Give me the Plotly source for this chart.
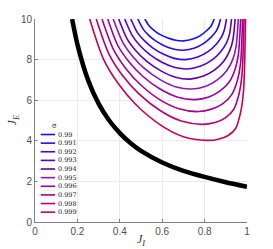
import plotly.graph_objects as go

# ---- data ----
alphas = ["0.99", "0.991", "0.992", "0.993", "0.994", "0.995", "0.996", "0.997", "0.998", "0.999"]
colors = ["#1010ff", "#2a08f0", "#3f05e0", "#5500d0", "#5c00b0",
          "#8a18b8", "#9a00a8", "#a8008a", "#b80070", "#c8005a"]

x_099 = [0.518, 0.540, 0.564, 0.591, 0.627, 0.664, 0.700, 0.744, 0.780, 0.809, 0.828, 0.838, 0.845]
y_099 = [10.0, 9.64, 9.42, 9.23, 9.06, 8.95, 8.92, 9.01, 9.18, 9.42, 9.62, 9.81, 10.0]
x_0991 = [0.485, 0.511, 0.539, 0.571, 0.614, 0.657, 0.700, 0.753, 0.796, 0.831, 0.854, 0.866, 0.875]
y_0991 = [10.0, 9.49, 9.17, 8.91, 8.66, 8.51, 8.46, 8.57, 8.80, 9.11, 9.39, 9.66, 10.0]
x_0992 = [0.452, 0.483, 0.517, 0.555, 0.607, 0.658, 0.710, 0.768, 0.816, 0.855, 0.880, 0.893, 0.903]
y_0992 = [10.0, 9.33, 8.92, 8.58, 8.26, 8.06, 8.00, 8.13, 8.39, 8.76, 9.12, 9.46, 10.0]
x_0993 = [0.423, 0.459, 0.497, 0.542, 0.601, 0.661, 0.720, 0.782, 0.834, 0.875, 0.902, 0.917, 0.927]
y_0993 = [10.0, 9.18, 8.67, 8.25, 7.86, 7.61, 7.54, 7.68, 7.97, 8.38, 8.80, 9.23, 10.0]
x_0994 = [0.395, 0.435, 0.479, 0.529, 0.596, 0.663, 0.730, 0.794, 0.848, 0.891, 0.918, 0.933, 0.944]
y_0994 = [10.0, 9.01, 8.40, 7.90, 7.43, 7.13, 7.04, 7.19, 7.49, 7.93, 8.43, 8.94, 10.0]
x_0995 = [0.369, 0.414, 0.462, 0.517, 0.592, 0.666, 0.740, 0.806, 0.860, 0.904, 0.933, 0.948, 0.959]
y_0995 = [10.0, 8.85, 8.14, 7.55, 7.00, 6.65, 6.55, 6.69, 7.00, 7.45, 8.01, 8.61, 10.0]
x_0996 = [0.343, 0.392, 0.446, 0.508, 0.590, 0.673, 0.755, 0.820, 0.873, 0.916, 0.944, 0.959, 0.970]
y_0996 = [10.0, 8.67, 7.86, 7.18, 6.55, 6.15, 6.03, 6.16, 6.46, 6.90, 7.53, 8.23, 10.0]
x_0997 = [0.316, 0.371, 0.430, 0.498, 0.588, 0.679, 0.770, 0.833, 0.885, 0.927, 0.954, 0.969, 0.979]
y_0997 = [10.0, 8.48, 7.54, 6.76, 6.03, 5.58, 5.44, 5.56, 5.82, 6.26, 6.95, 7.76, 10.0]
x_0998 = [0.289, 0.349, 0.414, 0.489, 0.590, 0.690, 0.790, 0.849, 0.898, 0.937, 0.962, 0.976, 0.986]
y_0998 = [10.0, 8.27, 7.20, 6.32, 5.49, 4.97, 4.81, 4.90, 5.13, 5.54, 6.29, 7.22, 10.0]
x_0999 = [0.258, 0.324, 0.396, 0.479, 0.589, 0.700, 0.810, 0.865, 0.911, 0.947, 0.971, 0.984, 0.993]
y_0999 = [10.0, 8.00, 6.77, 5.75, 4.80, 4.20, 4.02, 4.08, 4.26, 4.62, 5.46, 6.53, 10.0]

curves_x = [x_099, x_0991, x_0992, x_0993, x_0994, x_0995, x_0996, x_0997, x_0998, x_0999]
curves_y = [y_099, y_0991, y_0992, y_0993, y_0994, y_0995, y_0996, y_0997, y_0998, y_0999]

black_x = [0.175, 0.20, 0.25, 0.30, 0.35, 0.40, 0.45, 0.50, 0.60, 0.70, 0.80, 0.90, 1.00]
black_y = [10.0, 8.75, 7.00, 5.83, 5.00, 4.38, 3.89, 3.50, 2.93, 2.52, 2.22, 1.96, 1.74]

x_ticks = [0, 0.2, 0.4, 0.6, 0.8, 1]
x_tick_labels = ["0", "0.2", "0.4", "0.6", "0.8", "1"]
y_ticks = [0, 2, 4, 6, 8, 10]
y_tick_labels = ["0", "2", "4", "6", "8", "10"]

fig = go.Figure()

fig.add_trace(go.Scatter(x=black_x, y=black_y, mode="lines",
                         line=dict(color="black", width=4.5, shape="spline", smoothing=0.6),
                         showlegend=False, hoverinfo="skip"))

for cx, cy, col, a in zip(curves_x, curves_y, colors, alphas):
    fig.add_trace(go.Scatter(x=cx, y=cy, mode="lines", name=a,
                             line=dict(color=col, width=1.6, shape="spline", smoothing=0.8),
                             showlegend=False))

# ---- manual compact legend ----
shapes = [dict(type="rect", xref="x", yref="y", x0=0.012, x1=0.175, y0=0.22, y1=4.95,
               fillcolor="white", line=dict(width=0), layer="above")]
annotations = []
leg_top = 4.31
leg_step = 0.425
for k, (a, col) in enumerate(zip(alphas, colors)):
    yy = leg_top - k * leg_step
    shapes.append(dict(type="line", xref="x", yref="y", x0=0.027, x1=0.095, y0=yy, y1=yy,
                       line=dict(color=col, width=1.6), layer="above"))
    annotations.append(dict(x=0.097, y=yy, xref="x", yref="y", text=a, showarrow=False,
                            xanchor="left", yanchor="middle",
                            font=dict(family="DejaVu Serif", size=6.5, color="#222")))
annotations.append(dict(x=0.093, y=4.76, xref="x", yref="y", text="α", showarrow=False,
                        xanchor="center", yanchor="middle", textangle=-90,
                        font=dict(family="DejaVu Serif", size=7, color="#222")))

# axis titles
annotations.append(dict(x=0.5, y=-0.088, xref="paper", yref="paper",
                        text="<i>J</i><sub><i>I</i></sub>", showarrow=False,
                        xanchor="center", yanchor="middle",
                        font=dict(family="Liberation Serif", size=12, color="#333")))
annotations.append(dict(x=-0.104, y=0.5, xref="paper", yref="paper",
                        text="<i>J</i><sub><i>E</i></sub>", showarrow=False, textangle=-90,
                        xanchor="center", yanchor="middle",
                        font=dict(family="Liberation Serif", size=12, color="#333")))

axis_common = dict(showgrid=True, gridcolor="#ebebeb", gridwidth=1, zeroline=False,
                   showline=True, linecolor="#7f7f7f", linewidth=1,
                   ticks="inside", ticklen=3, tickcolor="#7f7f7f", automargin=False,
                   tickfont=dict(family="Liberation Sans", size=10, color="#4d4d4d"))

fig.update_layout(
    width=273, height=249,
    margin=dict(l=35, r=26, t=19, b=27, autoexpand=False),
    paper_bgcolor="white", plot_bgcolor="white",
    xaxis=dict(range=[0, 1], tickvals=x_ticks, ticktext=x_tick_labels, **axis_common),
    yaxis=dict(range=[0, 10], tickvals=y_ticks, ticktext=y_tick_labels, **axis_common),
    shapes=shapes, annotations=annotations,
    showlegend=False,
)

fig.write_html("out.html", config={"displayModeBar": False},
               post_script="document.body.style.margin='0';document.body.style.padding='0';")
